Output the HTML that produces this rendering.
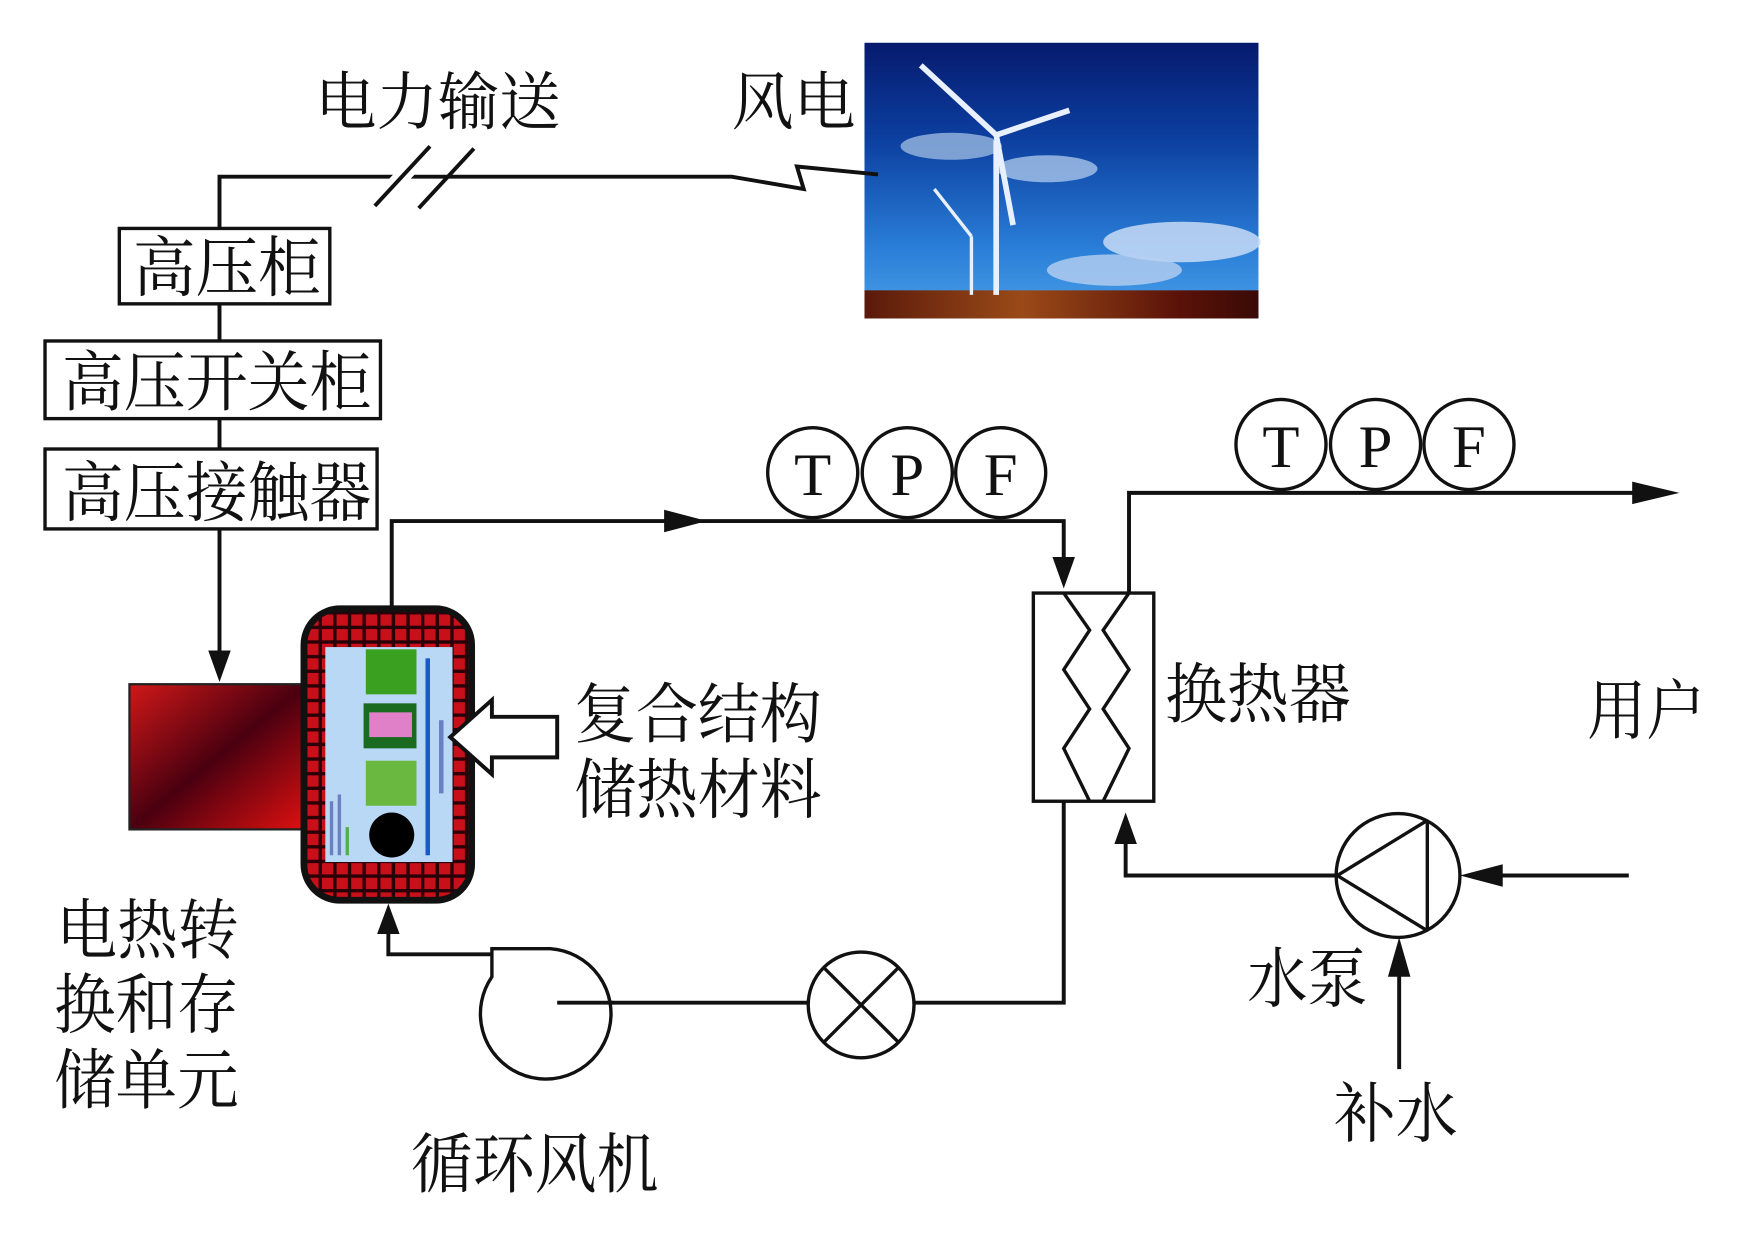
<!DOCTYPE html>
<html><head><meta charset="utf-8"><style>
html,body{margin:0;padding:0;background:#fff;}
svg{display:block}
text{font-family:"Liberation Serif","Noto Serif CJK SC","Noto Sans CJK SC",serif;fill:#111}
</style></head><body>
<svg width="1756" height="1239" viewBox="0 0 1560 1101" preserveAspectRatio="none" xmlns="http://www.w3.org/2000/svg">
<defs>
<linearGradient id="sky" x1="0" y1="0" x2="0" y2="1">
<stop offset="0" stop-color="#061a6e"/><stop offset="0.35" stop-color="#0c3fa0"/><stop offset="0.75" stop-color="#2a7fd8"/><stop offset="1" stop-color="#4aa0e8"/>
</linearGradient>
<linearGradient id="ground" x1="0" y1="0" x2="1" y2="0">
<stop offset="0" stop-color="#5a1a0a"/><stop offset="0.4" stop-color="#9a4a18"/><stop offset="0.8" stop-color="#5a1208"/><stop offset="1" stop-color="#3a0a06"/>
</linearGradient>
<linearGradient id="heater" x1="0" y1="0" x2="1" y2="1">
<stop offset="0" stop-color="#d01818"/><stop offset="0.5" stop-color="#4a0010"/><stop offset="1" stop-color="#e01010"/>
</linearGradient>
<pattern id="grid" width="13" height="13" patternUnits="userSpaceOnUse">
<rect width="13" height="13" fill="#c8101a"/><rect x="10" width="3" height="13" fill="#2a0008"/><rect y="10" width="13" height="3" fill="#2a0008"/>
</pattern>
</defs>

<!-- wind photo -->
<rect x="768" y="38" width="350" height="245" fill="url(#sky)"/>
<ellipse cx="845" cy="130" rx="45" ry="12" fill="#9ab8e0" opacity="0.8"/>
<ellipse cx="930" cy="150" rx="45" ry="12" fill="#a8c4ea" opacity="0.8"/>
<ellipse cx="1050" cy="215" rx="70" ry="18" fill="#c8dcf6" opacity="0.85"/>
<ellipse cx="990" cy="240" rx="60" ry="14" fill="#b8d0f0" opacity="0.8"/>
<rect x="768" y="258" width="350" height="25" fill="url(#ground)"/>
<g stroke="#e8f0ff" stroke-width="5">
<line x1="885" y1="125" x2="885" y2="262"/>
<line x1="885" y1="120" x2="818" y2="58"/>
<line x1="885" y1="120" x2="950" y2="98"/>
<line x1="885" y1="120" x2="900" y2="200"/>
<line x1="863" y1="210" x2="863" y2="262" stroke-width="3"/>
<line x1="863" y1="210" x2="830" y2="168" stroke-width="3"/>
</g>

<!-- power line -->
<g stroke="#111" stroke-width="3.5" fill="none">
<polyline points="195,203 195,157 650,157 714,168 708,148 780,155"/>
<line x1="333" y1="183" x2="382" y2="130" stroke="#fff" stroke-width="14"/>
<line x1="333" y1="183" x2="382" y2="130"/>
<line x1="372" y1="185" x2="421" y2="132"/>
<line x1="195" y1="270" x2="195" y2="303"/>
<line x1="195" y1="372" x2="195" y2="399"/>
<line x1="195" y1="470" x2="195" y2="590"/>
</g>
<polygon points="185,578 205,578 195,606" fill="#111"/>

<g fill="#fff" stroke="#111" stroke-width="3">
<rect x="106" y="203" width="187" height="67"/>
<rect x="40" y="303" width="298" height="69"/>
<rect x="40" y="399" width="295" height="71"/>
</g>
<text x="118" y="258" font-size="58" textLength="167" lengthAdjust="spacingAndGlyphs">高压柜</text>
<text x="55" y="360" font-size="58" textLength="275" lengthAdjust="spacingAndGlyphs">高压开关柜</text>
<text x="55" y="458" font-size="58" textLength="275" lengthAdjust="spacingAndGlyphs">高压接触器</text>
<text x="280" y="110" font-size="56" textLength="218" lengthAdjust="spacingAndGlyphs">电力输送</text>
<text x="650" y="110" font-size="56" textLength="110" lengthAdjust="spacingAndGlyphs">风电</text>

<!-- heater -->
<rect x="115" y="608" width="157" height="129" fill="url(#heater)" stroke="#222" stroke-width="2"/>
<rect x="270" y="541" width="149" height="259" rx="32" fill="url(#grid)" stroke="#111" stroke-width="6"/>
<rect x="289" y="575" width="113" height="191" fill="#b8d8f6"/>
<rect x="325" y="577" width="45" height="40" fill="#3aa020"/>
<rect x="323" y="625" width="47" height="40" fill="#1a6a20"/>
<rect x="328" y="633" width="38" height="22" fill="#e080c8"/>
<rect x="325" y="676" width="45" height="40" fill="#6ab840"/>
<ellipse cx="348" cy="742" rx="20" ry="20" fill="#000"/>
<rect x="378" y="585" width="4" height="175" fill="#1a5ac8"/>
<rect x="390" y="640" width="4" height="65" fill="#6a80c0"/>
<rect x="293" y="712" width="3" height="48" fill="#6a80c0"/>
<rect x="300" y="706" width="3" height="54" fill="#6a80c0"/>
<rect x="307" y="735" width="3" height="25" fill="#50b050"/>

<!-- hollow arrow -->
<polygon points="400,655 437,622 437,637 495,637 495,673 437,673 437,688" fill="#fff" stroke="#111" stroke-width="3.5"/>
<text x="510" y="655" font-size="58" textLength="220" lengthAdjust="spacingAndGlyphs">复合结构</text>
<text x="510" y="722" font-size="58" textLength="220" lengthAdjust="spacingAndGlyphs">储热材料</text>

<!-- loops -->
<g stroke="#111" stroke-width="3.5" fill="none">
<polyline points="348,541 348,463 945,463 945,510"/>
<polyline points="345,810 345,848 437,848"/>
<line x1="495" y1="891" x2="718" y2="891"/>
<polyline points="812,891 945,891 945,712"/>
<polyline points="1003,527 1003,438 1470,438"/>
<polyline points="1188,778 1000,778 1000,740"/>
<line x1="1447" y1="778" x2="1320" y2="778"/>
<line x1="1243" y1="950" x2="1243" y2="855"/>
</g>
<polygon points="590,453 628,463 590,473" fill="#111"/>
<polygon points="935,495 955,495 945,523" fill="#111"/>
<polygon points="335,830 355,830 345,803" fill="#111"/>
<polygon points="1450,428 1492,438 1450,448" fill="#111"/>
<polygon points="990,750 1010,750 1000,722" fill="#111"/>
<polygon points="1335,768 1335,788 1297,778" fill="#111"/>
<polygon points="1233,868 1253,868 1243,833" fill="#111"/>

<!-- TPF -->
<g fill="#fff" stroke="#111" stroke-width="3">
<circle cx="722" cy="420" r="40"/><circle cx="806" cy="420" r="40"/><circle cx="889" cy="420" r="40"/>
<circle cx="1138" cy="395" r="40"/><circle cx="1222" cy="395" r="40"/><circle cx="1305" cy="395" r="40"/>
</g>
<g font-size="54" text-anchor="middle">
<text x="722" y="440">T</text><text x="806" y="440">P</text><text x="889" y="440">F</text>
<text x="1138" y="415">T</text><text x="1222" y="415">P</text><text x="1305" y="415">F</text>
</g>

<!-- heat exchanger -->
<rect x="918" y="527" width="107" height="185" fill="#fff" stroke="#111" stroke-width="3"/>
<g stroke="#111" stroke-width="3" fill="none">
<polyline points="945,527 968,560 945,595 968,630 945,665 968,712"/>
<polyline points="1003,527 980,560 1003,595 980,630 1003,665 980,712"/>
</g>
<text x="1035" y="637" font-size="58" textLength="165" lengthAdjust="spacingAndGlyphs">换热器</text>
<text x="1410" y="652" font-size="58" textLength="105" lengthAdjust="spacingAndGlyphs">用户</text>

<!-- fan -->
<path d="M437,843 L489,843 A58,58 0 1 1 437,868 Z" fill="#fff" stroke="#111" stroke-width="3"/>
<line x1="495" y1="891" x2="545" y2="891" stroke="#111" stroke-width="3.5"/>
<!-- valve -->
<circle cx="765" cy="893" r="47" fill="#fff" stroke="#111" stroke-width="3"/>
<g stroke="#111" stroke-width="3"><line x1="732" y1="860" x2="798" y2="926"/><line x1="798" y1="860" x2="732" y2="926"/></g>
<!-- pump -->
<circle cx="1242" cy="778" r="55" fill="#fff" stroke="#111" stroke-width="3"/>
<g stroke="#111" stroke-width="3" fill="none">
<polyline points="1268,729 1188,778 1268,827"/><line x1="1268" y1="729" x2="1268" y2="827"/>
</g>

<g font-size="58" lengthAdjust="spacingAndGlyphs">
<text x="50" y="847" textLength="162" lengthAdjust="spacingAndGlyphs">电热转</text>
<text x="48" y="913" textLength="164" lengthAdjust="spacingAndGlyphs">换和存</text>
<text x="48" y="980" textLength="164" lengthAdjust="spacingAndGlyphs">储单元</text>
<text x="365" y="1055" textLength="220" lengthAdjust="spacingAndGlyphs">循环风机</text>
<text x="1108" y="890" textLength="107" lengthAdjust="spacingAndGlyphs">水泵</text>
<text x="1185" y="1010" textLength="110" lengthAdjust="spacingAndGlyphs">补水</text>
</g>
</svg>
</body></html>
